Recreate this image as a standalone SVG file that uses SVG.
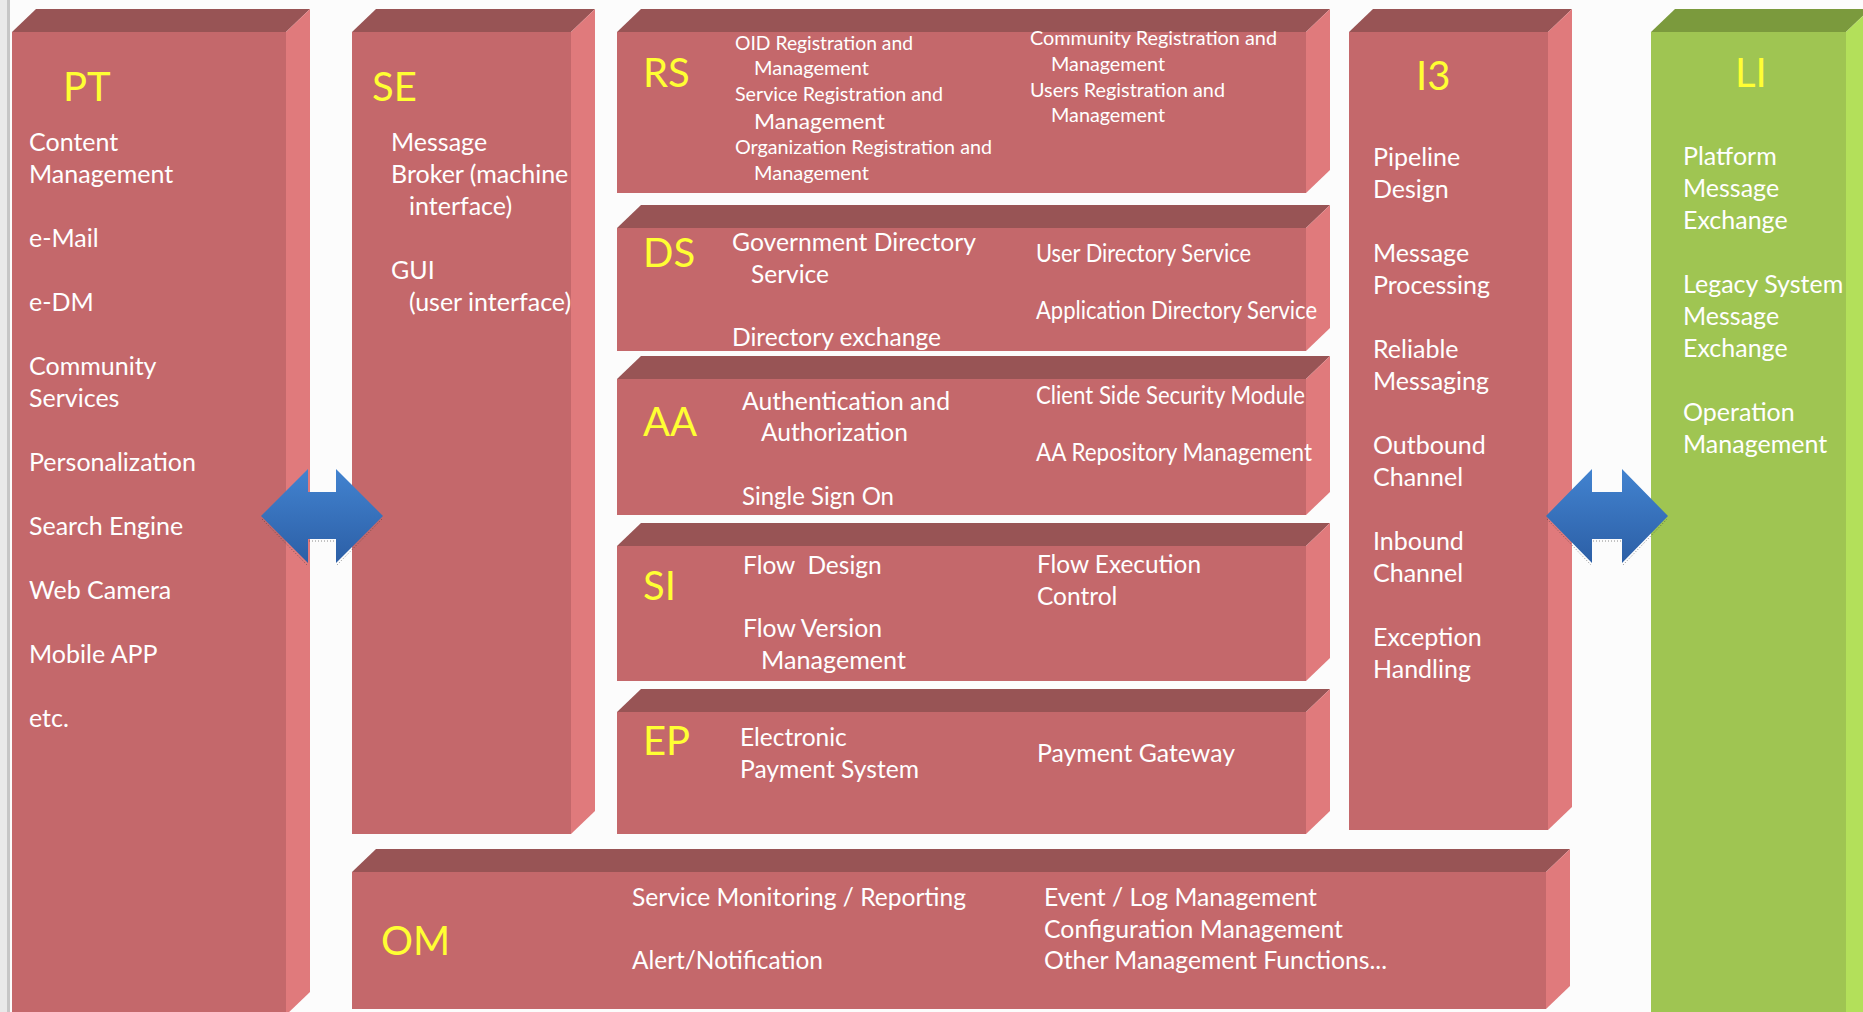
<svg xmlns="http://www.w3.org/2000/svg" width="1863" height="1012" viewBox="0 0 1863 1012">
<defs>
<style>
.front{fill:#c4686b}
.top{fill:#985455}
.side{fill:#e07a7c}
.gfront{fill:#9fc552}
.gtop{fill:#7b9a3d}
.gside{fill:#b3e05a}
text{font-family:Lato,"Liberation Sans",sans-serif;fill:#ffffff}
.t{font-size:40px;fill:#ffff33}
.b{font-size:25px}
.m{font-size:24.5px}
.s{font-size:19px}
</style>
<linearGradient id="ag" x1="0" y1="0" x2="0" y2="1">
<stop offset="0" stop-color="#4283d0"/>
<stop offset="1" stop-color="#2c5fa6"/>
</linearGradient>
</defs>
<rect x="0" y="0" width="1863" height="1012" fill="#fcfcfc"/>
<rect x="0" y="0" width="8" height="1012" fill="#e9e9e9"/>
<rect x="7" y="0" width="3" height="1012" fill="#c6c6c6"/>

<g id="PT">
<polygon class="top" points="12,32 36,9 310,9 286,32"/>
<polygon class="side" points="286,32 310,9 310,992 286,1015"/>
<rect class="front" x="12" y="32" width="274" height="983"/>
<text class="t" x="63" y="101">PT</text>
<text class="b" x="29" y="151">Content</text>
<text class="b" x="29" y="183">Management</text>
<text class="b" x="29" y="247">e-Mail</text>
<text class="b" x="29" y="311">e-DM</text>
<text class="b" x="29" y="375">Community</text>
<text class="b" x="29" y="407">Services</text>
<text class="b" x="29" y="471">Personalization</text>
<text class="b" x="29" y="535">Search Engine</text>
<text class="b" x="29" y="599">Web Camera</text>
<text class="b" x="29" y="663">Mobile APP</text>
<text class="b" x="29" y="727">etc.</text>
</g>

<g id="SE">
<polygon class="top" points="352,32 376,9 595,9 571,32"/>
<polygon class="side" points="571,32 595,9 595,811 571,834"/>
<rect class="front" x="352" y="32" width="219" height="802"/>
<text class="t" x="372" y="101">SE</text>
<text class="b" x="391" y="151">Message</text>
<text class="b" x="391" y="183">Broker (machine</text>
<text class="b" x="409" y="215">interface)</text>
<text class="b" x="391" y="279">GUI</text>
<text class="b" x="409" y="311">(user interface)</text>
</g>

<g id="RS">
<polygon class="top" points="617,32 641,9 1330,9 1306,32"/>
<polygon class="side" points="1306,32 1330,9 1330,170 1306,193"/>
<rect class="front" x="617" y="32" width="689" height="161"/>
<text class="t" x="643" y="87">RS</text>
<text class="s" x="735" y="50" textLength="178" lengthAdjust="spacingAndGlyphs">OID Registration and</text>
<text class="s" x="754" y="75" textLength="115" lengthAdjust="spacingAndGlyphs">Management</text>
<text class="s" x="735" y="101" textLength="208" lengthAdjust="spacingAndGlyphs">Service Registration and</text>
<text class="s" x="754" y="129" style="font-size:22px" textLength="131" lengthAdjust="spacingAndGlyphs">Management</text>
<text class="s" x="735" y="154" textLength="257" lengthAdjust="spacingAndGlyphs">Organization Registration and</text>
<text class="s" x="754" y="180" textLength="115" lengthAdjust="spacingAndGlyphs">Management</text>
<text class="s" x="1030" y="45" textLength="247" lengthAdjust="spacingAndGlyphs">Community Registration and</text>
<text class="s" x="1051" y="71" textLength="114" lengthAdjust="spacingAndGlyphs">Management</text>
<text class="s" x="1030" y="97" textLength="195" lengthAdjust="spacingAndGlyphs">Users Registration and</text>
<text class="s" x="1051" y="122" textLength="114" lengthAdjust="spacingAndGlyphs">Management</text>
</g>

<g id="DS">
<polygon class="top" points="617,228 641,205 1330,205 1306,228"/>
<polygon class="side" points="1306,228 1330,205 1330,328 1306,351"/>
<rect class="front" x="617" y="228" width="689" height="123"/>
<text class="t" x="643" y="267">DS</text>
<text class="m" x="732" y="251" textLength="244" lengthAdjust="spacingAndGlyphs">Government Directory</text>
<text class="m" x="751" y="283">Service</text>
<text class="m" x="732" y="346" textLength="209" lengthAdjust="spacingAndGlyphs">Directory exchange</text>
<text class="m" x="1036" y="262" textLength="215" lengthAdjust="spacingAndGlyphs">User Directory Service</text>
<text class="m" x="1036" y="319" textLength="281" lengthAdjust="spacingAndGlyphs">Application Directory Service</text>
</g>

<g id="AA">
<polygon class="top" points="617,379 641,356 1330,356 1306,379"/>
<polygon class="side" points="1306,379 1330,356 1330,492 1306,515"/>
<rect class="front" x="617" y="379" width="689" height="136"/>
<text class="t" x="643" y="436">AA</text>
<text class="m" x="742" y="410" textLength="208" lengthAdjust="spacingAndGlyphs">Authentication and</text>
<text class="m" x="761" y="441">Authorization</text>
<text class="m" x="742" y="505" textLength="152" lengthAdjust="spacingAndGlyphs">Single Sign On</text>
<text class="m" x="1036" y="404" textLength="269" lengthAdjust="spacingAndGlyphs">Client Side Security Module</text>
<text class="m" x="1036" y="461" textLength="276" lengthAdjust="spacingAndGlyphs">AA Repository Management</text>
</g>

<g id="SI">
<polygon class="top" points="617,546 641,523 1330,523 1306,546"/>
<polygon class="side" points="1306,546 1330,523 1330,658 1306,681"/>
<rect class="front" x="617" y="546" width="689" height="135"/>
<text class="t" x="643" y="600">SI</text>
<text class="m" x="743" y="574" xml:space="preserve">Flow  Design</text>
<text class="m" x="743" y="637" textLength="139" lengthAdjust="spacingAndGlyphs">Flow Version</text>
<text class="m" x="761" y="669" textLength="145" lengthAdjust="spacingAndGlyphs">Management</text>
<text class="m" x="1037" y="573" textLength="164" lengthAdjust="spacingAndGlyphs">Flow Execution</text>
<text class="m" x="1037" y="605">Control</text>
</g>

<g id="EP">
<polygon class="top" points="617,712 641,689 1330,689 1306,712"/>
<polygon class="side" points="1306,712 1330,689 1330,811 1306,834"/>
<rect class="front" x="617" y="712" width="689" height="122"/>
<text class="t" x="643" y="755">EP</text>
<text class="m" x="740" y="746">Electronic</text>
<text class="m" x="740" y="778" textLength="179" lengthAdjust="spacingAndGlyphs">Payment System</text>
<text class="m" x="1037" y="762" textLength="198" lengthAdjust="spacingAndGlyphs">Payment Gateway</text>
</g>

<g id="I3">
<polygon class="top" points="1349,32 1373,9 1572,9 1548,32"/>
<polygon class="side" points="1548,32 1572,9 1572,807 1548,830"/>
<rect class="front" x="1349" y="32" width="199" height="798"/>
<text class="t" x="1416" y="90">I3</text>
<text class="b" x="1373" y="166">Pipeline</text>
<text class="b" x="1373" y="198">Design</text>
<text class="b" x="1373" y="262">Message</text>
<text class="b" x="1373" y="294">Processing</text>
<text class="b" x="1373" y="358">Reliable</text>
<text class="b" x="1373" y="390">Messaging</text>
<text class="b" x="1373" y="454">Outbound</text>
<text class="b" x="1373" y="486">Channel</text>
<text class="b" x="1373" y="550">Inbound</text>
<text class="b" x="1373" y="582">Channel</text>
<text class="b" x="1373" y="646">Exception</text>
<text class="b" x="1373" y="678">Handling</text>
</g>

<g id="LI">
<polygon class="gtop" points="1651,32 1675,9 1870,9 1846,32"/>
<polygon class="gside" points="1846,32 1870,9 1870,1012 1846,1015"/>
<rect class="gfront" x="1651" y="32" width="195" height="983"/>
<text class="t" x="1735" y="87">LI</text>
<text class="b" x="1683" y="165">Platform</text>
<text class="b" x="1683" y="197">Message</text>
<text class="b" x="1683" y="229">Exchange</text>
<text class="b" x="1683" y="293">Legacy System</text>
<text class="b" x="1683" y="325">Message</text>
<text class="b" x="1683" y="357">Exchange</text>
<text class="b" x="1683" y="421">Operation</text>
<text class="b" x="1683" y="453">Management</text>
</g>

<g id="OM">
<polygon class="top" points="352,872 376,849 1570,849 1546,872"/>
<polygon class="side" points="1546,872 1570,849 1570,986 1546,1009"/>
<rect class="front" x="352" y="872" width="1194" height="137"/>
<text class="t" x="381" y="955">OM</text>
<text class="m" x="632" y="906" textLength="334" lengthAdjust="spacingAndGlyphs">Service Monitoring / Reporting</text>
<text class="m" x="632" y="969" textLength="191" lengthAdjust="spacingAndGlyphs">Alert/Notification</text>
<text class="m" x="1044" y="906" textLength="273" lengthAdjust="spacingAndGlyphs">Event / Log Management</text>
<text class="m" x="1044" y="938" textLength="299" lengthAdjust="spacingAndGlyphs">Configuration Management</text>
<text class="m" x="1044" y="969" textLength="343" lengthAdjust="spacingAndGlyphs">Other Management Functions...</text>
</g>

<g id="connectors">
<g id="arrow-PT-SE">
<polygon fill="url(#ag)" points="261,516 308,469 308,492 336,492 336,469 383,516 336,563 336,539 308,539 308,563"/>
<path d="M262,519 L307,565 M337,565 L382,519 M309,541 L335,541" fill="none" stroke="#404040" stroke-width="1" stroke-dasharray="1 2" opacity="0.6"/>
</g>
<g id="arrow-I3-LI">
<polygon fill="url(#ag)" points="1546,516 1592,469 1592,492 1622,492 1622,469 1668,516 1622,563 1622,539 1592,539 1592,563"/>
<path d="M1547,519 L1591,565 M1623,565 L1667,519 M1593,541 L1621,541" fill="none" stroke="#404040" stroke-width="1" stroke-dasharray="1 2" opacity="0.6"/>
</g>
</g>
</svg>
